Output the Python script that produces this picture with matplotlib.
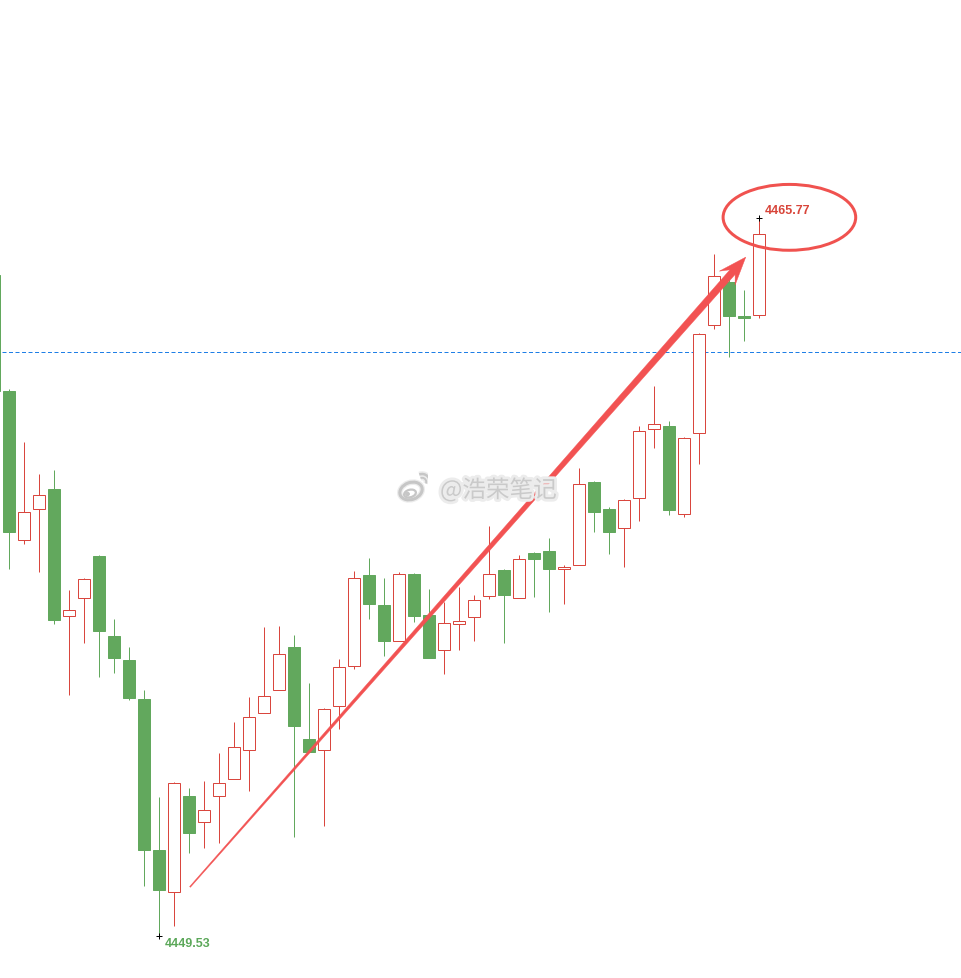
import numpy as np
import matplotlib
matplotlib.use("Agg")
import matplotlib.pyplot as plt
from matplotlib.patches import Rectangle, Ellipse, Polygon, Arc
import matplotlib.patheffects as pe

# candle index (-1 is the one cut off at the left edge)
idx = np.arange(-1, 51)
opens = [4464.49, 4461.86, 4458.48, 4459.19, 4459.65, 4456.77, 4457.17, 4458.13, 4456.32, 4455.78,
         4454.89, 4451.48, 4450.52, 4452.70, 4452.10, 4452.69, 4453.08, 4453.73, 4454.57, 4455.09,
         4456.07, 4453.99, 4453.73, 4454.73, 4455.63, 4457.70, 4457.02, 4456.20, 4457.72, 4456.79,
         4456.00, 4456.58, 4456.75, 4457.22, 4457.81, 4457.17, 4458.20, 4458.24, 4457.83, 4457.92,
         4459.80, 4459.19, 4458.76, 4459.44, 4461.00, 4461.07, 4459.07, 4460.91, 4463.35, 4464.33,
         4463.56, 4463.58]
highs = [4464.49, 4461.91, 4460.71, 4459.99, 4460.08, 4457.36, 4457.63, 4458.15, 4456.70, 4456.07,
         4455.10, 4452.68, 4453.01, 4452.88, 4453.04, 4453.67, 4454.37, 4454.94, 4456.52, 4456.55,
         4456.34, 4455.26, 4454.69, 4455.80, 4457.79, 4458.08, 4457.63, 4457.76, 4457.75, 4457.38,
         4457.08, 4457.43, 4457.25, 4458.81, 4457.84, 4458.14, 4458.22, 4458.54, 4457.93, 4460.12,
         4459.83, 4459.24, 4459.42, 4461.07, 4461.98, 4461.18, 4460.82, 4463.18, 4464.96, 4464.44,
         4464.15, 4465.77]
lows = [4461.86, 4457.84, 4458.41, 4457.77, 4456.58, 4454.99, 4456.17, 4455.38, 4455.49, 4454.86,
        4450.67, 4449.53, 4449.76, 4451.40, 4451.51, 4451.64, 4453.08, 4452.80, 4454.57, 4455.09,
        4451.78, 4453.70, 4452.03, 4454.22, 4455.56, 4456.71, 4455.87, 4456.20, 4456.64, 4455.81,
        4455.45, 4455.99, 4456.21, 4457.15, 4456.15, 4457.17, 4457.19, 4456.87, 4457.05, 4457.92,
        4458.68, 4458.18, 4457.87, 4458.91, 4460.58, 4459.06, 4459.02, 4460.22, 4463.27, 4462.64,
        4463.00, 4463.51]
closes = [4461.86, 4458.68, 4459.12, 4459.50, 4456.67, 4456.90, 4457.60, 4456.42, 4455.81, 4454.92,
          4451.48, 4450.56, 4452.99, 4451.85, 4452.38, 4452.99, 4453.80, 4454.48, 4454.95, 4455.91,
          4454.29, 4453.70, 4454.66, 4455.61, 4457.63, 4457.05, 4456.21, 4457.72, 4456.78, 4455.81,
          4456.61, 4456.65, 4457.13, 4457.72, 4457.25, 4458.06, 4458.07, 4457.84, 4457.88, 4459.75,
          4459.13, 4458.66, 4459.39, 4460.95, 4461.11, 4459.16, 4460.79, 4463.15, 4464.46, 4463.55,
          4463.51, 4465.41]

ref_level = 4462.74
high_label = "4465.77"
low_label = "4449.53"
watermark = "@浩荣笔记"

up_col = "#d9463e"
down_col = "#62a85d"
px = 72 / 100.0  # one pixel in points

fig = plt.figure(figsize=(9.61, 9.79), dpi=100)
ax = fig.add_axes([0, 0, 1, 1])
ax.set_axis_off()
ax.set_xlim(-0.6267, 63.44)
ax.set_ylim(4448.58, 4470.73)

w = 0.8
for i, o, h, l, c in zip(idx, opens, highs, lows, closes):
    col = up_col if c >= o else down_col
    ax.vlines(i, l, h, color=col, linewidth=px, zorder=2)
    face = "white" if c >= o else down_col
    ax.add_patch(Rectangle((i - w / 2, min(o, c)), w, abs(c - o), facecolor=face,
                           edgecolor=col, linewidth=px, zorder=3))

ax.axhline(ref_level, xmin=2 / 961, color="#1f7fe6", linewidth=px, dashes=(4, 2.5), zorder=1)

# high / low markers
hi = int(np.argmax(highs))
lo = int(np.argmin(lows))
ax.plot(idx[hi], highs[hi], marker="+", color="black", markersize=5, mew=px, zorder=6)
ax.plot(idx[lo], lows[lo], marker="+", color="black", markersize=5, mew=px, zorder=6)
ax.annotate(high_label, (idx[hi], highs[hi]), xytext=(5, 8), textcoords="offset pixels",
            color="#d8453a", fontsize=9, fontweight="bold", family="Liberation Sans",
            va="center", ha="left", zorder=6)
ax.annotate(low_label, (idx[lo], lows[lo]), xytext=(5, -7), textcoords="offset pixels",
            color="#5ca85a", fontsize=9, fontweight="bold", family="Liberation Sans",
            va="center", ha="left", zorder=6)

# hand drawn ellipse around the high
ax.add_patch(Ellipse((52.0, 4465.79), 8.84, 1.49, fill=False, edgecolor="#f0524f",
                     linewidth=3 * px, zorder=7))

# tapered arrow, built in pixel space
tail = ax.transData.transform((12.04, 4450.64))
tip = ax.transData.transform((49.09, 4464.89))
u = (tip - tail) / np.linalg.norm(tip - tail)
n = np.array([-u[1], u[0]])
hb = tip - 20 * u
bb = tip - 28 * u
pts = [tail + 0.5 * n, hb + 3.5 * n, bb + 10.5 * n, tip, bb - 10.5 * n, hb - 3.5 * n, tail - 0.5 * n]
pts = ax.transData.inverted().transform(np.array(pts))
ax.add_patch(Polygon(pts, closed=True, facecolor="#f25252", edgecolor="#f25252",
                     linewidth=0.3, zorder=7))

# watermark
halo = [pe.withStroke(linewidth=4, foreground="#ececec")]
fig.text(440 / 961, 1 - 491 / 979, watermark, fontsize=17, color="#cacaca",
         family=["Noto Sans CJK SC", "DejaVu Sans"], va="center", ha="left",
         path_effects=halo, zorder=4)

lax = fig.add_axes([396 / 961, 1 - 504 / 979, 32 / 961, 32 / 979])
lax.set_axis_off()
lax.set_xlim(0, 32)
lax.set_ylim(0, 32)
lg = "#c6c6c6"
lax.add_patch(Ellipse((15, 12), 23, 17, angle=20, fill=False, edgecolor=lg, linewidth=2.2,
                      path_effects=halo))
lax.add_patch(Ellipse((14, 9.5), 12, 7.5, angle=15, fill=False, edgecolor=lg, linewidth=1.6))
lax.add_patch(Ellipse((11.5, 9), 3.5, 3, facecolor=lg, edgecolor=lg))
lax.add_patch(Arc((26, 21), 9, 9, theta1=-20, theta2=110, edgecolor=lg, linewidth=1.8,
                  path_effects=halo))
lax.add_patch(Arc((26, 21), 16, 16, theta1=-20, theta2=110, edgecolor=lg, linewidth=1.8,
                  path_effects=halo))

fig.savefig("out.png", dpi=100)
plt.close(fig)
